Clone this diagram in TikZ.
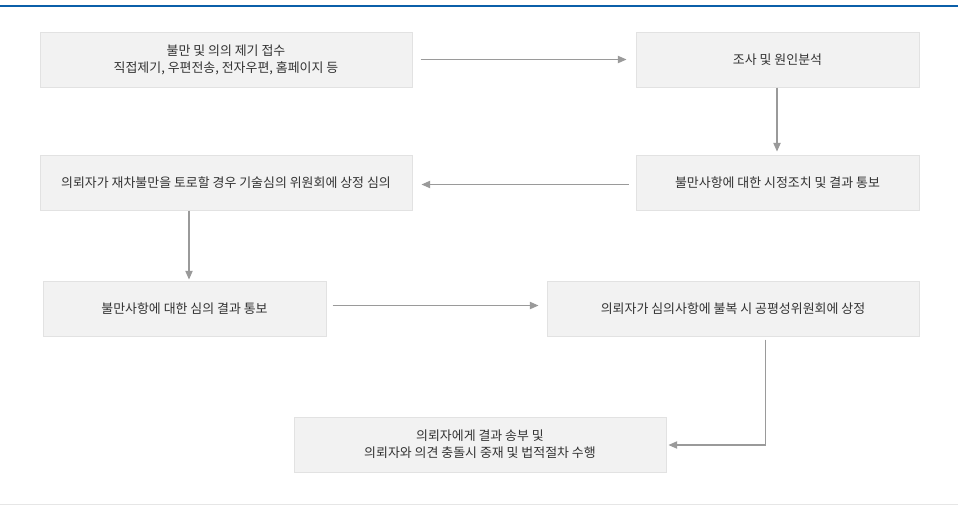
\documentclass[tikz,border=0pt]{standalone}
\usepackage{fontspec}
\setmainfont{Noto Sans CJK KR}
\usetikzlibrary{arrows.meta,calc}
\definecolor{topblue}{HTML}{0B5FA9}
\definecolor{boxfill}{HTML}{F2F2F2}
\definecolor{boxline}{HTML}{E2E2E2}
\definecolor{arrowgray}{HTML}{9A9A9A}
\definecolor{txt}{HTML}{333333}
\definecolor{bottomline}{HTML}{E6E6E6}
\begin{document}
\begin{tikzpicture}[x=0.75pt,y=-0.75pt,
  stepbox/.style={draw=boxline,fill=boxfill,line width=0.75pt,inner sep=0pt,
    text=txt,font=\fontsize{9.7pt}{12.75pt}\selectfont,align=center,
    minimum height=41.25pt},
  wide/.style={minimum width=279pt},
  narrow/.style={minimum width=212.25pt},
  conn/.style={draw=arrowgray,line width=0.8pt,-{Triangle[length=6.5pt,width=5.5pt]}}]
\useasboundingbox (0,0) rectangle (960,518);
\fill[white] (0,0) rectangle (960,518);
\fill[topblue] (0,4.8) rectangle (958,7.4);
\draw[bottomline,line width=0.75pt] (0,504) -- (958,504);

\node[stepbox,wide]   (b1) at (226,59.5)  {불만 및 의의 제기 접수\\직접제기, 우편전송, 전자우편, 홈페이지 등};
\node[stepbox,narrow] (b2) at (777.5,59.5) {조사 및 원인분석};
\node[stepbox,narrow] (b3) at (777.5,182.5) {불만사항에 대한 시정조치 및 결과 통보};
\node[stepbox,wide]   (b4) at (226,182.5) {의뢰자가 재차불만을 토로할 경우 기술심의 위원회에 상정 심의};
\node[stepbox,narrow] (b5) at (184.5,308.5) {불만사항에 대한 심의 결과 통보};
\node[stepbox,wide]   (b6) at (733,308.5) {의뢰자가 심의사항에 불복 시 공평성위원회에 상정};
\node[stepbox,wide]   (b7) at (480,444.5) {의뢰자에게 결과 송부 및\\의뢰자와 의견 충돌시 중재 및 법적절차 수행};

\coordinate (bend) at (765.5,445);

\draw[conn] ($(b1.east)+(8,0)$) -- ($(b2.west)+(-9,0)$);
\draw[conn] ($(b2.south)+(-0.5,0)$) -- ($(b3.north)+(-0.5,-3)$);
\draw[conn] ($(b3.west)+(-7,2)$) -- ($(b4.east)+(9,2)$);
\draw[conn] ($(b4.south)+(-37,0)$) -- ($(b5.north)+(4.5,-1)$);
\draw[conn] ($(b5.east)+(6,-3)$) -- ($(b6.west)+(-8,-3)$);
\draw[conn] ($(b6.south)+(32.5,3)$) -- (bend) -- ($(b7.east)+(2,0.5)$);
\end{tikzpicture}
\end{document}
